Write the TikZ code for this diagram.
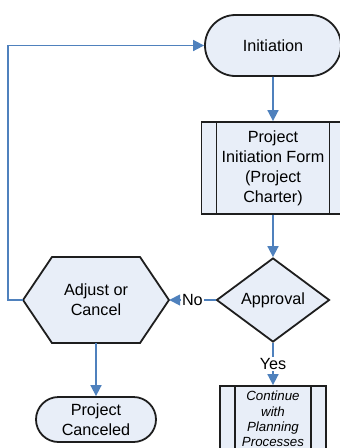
\documentclass[tikz,border=0pt]{standalone}
\usepackage{fontspec}
\setmainfont{Liberation Sans}
\usetikzlibrary{arrows.meta, shapes.geometric, shapes.misc}
\definecolor{boxfill}{RGB}{232,238,248}
\definecolor{flowblue}{RGB}{79,129,189}
\definecolor{edgegray}{RGB}{30,30,30}

\begin{document}
\begin{tikzpicture}[x=1pt, y=-1pt, >={Triangle[length=11pt, width=11pt]},
  every node/.style={font=\fontsize{16.2}{20}\selectfont},
  shapeline/.style={draw=edgegray, line width=1.8pt, fill=boxfill},
  terminal/.style={shapeline, rounded rectangle, inner sep=0pt, align=center},
  decision/.style={shapeline, diamond, inner sep=0pt},
  predef/.style={shapeline, rectangle, inner sep=0pt, align=center,
    path picture={
      \draw[edgegray, line width=1.8pt]
        ([xshift=15pt]path picture bounding box.north west) -- ([xshift=15pt]path picture bounding box.south west)
        ([xshift=-15pt]path picture bounding box.north east) -- ([xshift=-15pt]path picture bounding box.south east);
    }},
  flow/.style={->, flowblue, line width=1.7pt},
  flowlabel/.style={fill=white, text=black, inner sep=1.5pt}]
  \useasboundingbox (0,0) rectangle (340,448);

  % Start
  \node[terminal, minimum width=136pt, minimum height=61pt] (init) at (273,45.5) {Initiation};

  % Charter
  \node[predef, minimum width=143pt, minimum height=92pt] (form) at (273,168)
    {Project\\Initiation Form\\(Project\\Charter)};

  % Decision
  \node[decision, minimum width=113pt, minimum height=84pt] (approval) at (273,300) {Approval};

  % Adjust (hexagon)
  \draw[shapeline] (23,300) -- (52,257) -- (140,257) -- (169,300) -- (140,343) -- (52,343) -- cycle;
  \node[minimum width=146pt, minimum height=86pt, inner sep=0pt, align=center] (adjust) at (96,300)
    {Adjust or\\Cancel};

  % Ends
  \node[terminal, minimum width=120pt, minimum height=45pt] (canceled) at (96,419.5) {Project\\Canceled};
  \node[predef, minimum width=106pt, minimum height=66pt,
        font=\fontsize{13.3}{15.3}\selectfont\itshape] (cont) at (273,419)
    {Continue\\with\\Planning\\Processes};

  % Flow
  \draw[flow] (init) -- (form);
  \draw[flow] (form) -- (approval);
  \draw[flow] (approval) -- node[flowlabel] {No} (adjust);
  \draw[flow] (approval) -- node[flowlabel] {Yes} (cont);
  \draw[flow] (adjust) -- (canceled);
  \draw[flow] (adjust.west) -- ++(-15,0) |- (init.west);
\end{tikzpicture}
\end{document}
